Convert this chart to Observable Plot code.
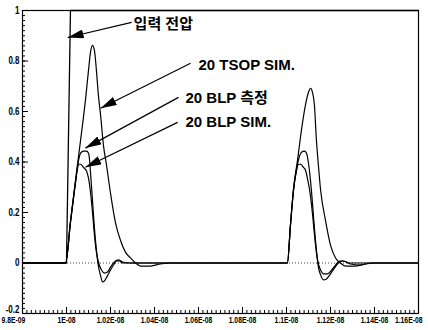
<!DOCTYPE html>
<html><head><meta charset="utf-8">
<script src="https://cdn.jsdelivr.net/npm/d3@7"></script>
<script src="https://cdn.jsdelivr.net/npm/@observablehq/plot@0.6"></script>
<style>body{margin:0;background:#fff}</style>
</head><body><div id="chart"></div>
<script>
// time in ns (axis labelled in seconds), voltage in V
const inputTime  = [9.8, 10.0, 10.018, 11.6];
const inputValue = [0, 0, 1, 1];

const tsopTime  = [9.8, 9.996, 10.018, 10.041, 10.064, 10.086, 10.1, 10.109, 10.118, 10.127, 10.136, 10.145, 10.155, 10.168, 10.182, 10.2, 10.223, 10.245, 10.268, 10.291, 10.314, 10.336, 10.382, 10.427, 10.473,
                   11.004, 11.018, 11.032, 11.05, 11.068, 11.086, 11.1, 11.109, 11.118, 11.127, 11.136, 11.145, 11.155, 11.177, 11.2, 11.223, 11.245, 11.268, 11.314, 11.359, 11.405, 11.6];
const tsopValue = [0, 0, 0.162, 0.328, 0.486, 0.644, 0.763, 0.834, 0.862, 0.842, 0.763, 0.664, 0.585, 0.466, 0.387, 0.277, 0.158, 0.091, 0.043, 0.020, 0, -0.012, -0.012, -0.004, 0,
                   0, 0.150, 0.296, 0.407, 0.526, 0.625, 0.676, 0.692, 0.676, 0.625, 0.486, 0.387, 0.289, 0.170, 0.071, 0.020, 0, -0.012, -0.012, -0.004, 0, 0];

const blpMeasTime  = [9.8, 9.996, 10.018, 10.041, 10.055, 10.064, 10.077, 10.091, 10.1, 10.105, 10.109, 10.118, 10.127, 10.136, 10.145, 10.155, 10.164, 10.173, 10.186, 10.2, 10.214, 10.227, 10.241, 10.255, 10.291,
                      11.004, 11.018, 11.032, 11.045, 11.059, 11.068, 11.082, 11.091, 11.1, 11.109, 11.118, 11.127, 11.136, 11.145, 11.155, 11.168, 11.182, 11.2, 11.218, 11.236, 11.255, 11.273, 11.291, 11.336, 11.382, 11.6];
const blpMeasValue = [0, 0, 0.162, 0.320, 0.407, 0.435, 0.443, 0.443, 0.435, 0.407, 0.360, 0.249, 0.138, 0.051, -0.012, -0.051, -0.075, -0.071, -0.051, -0.028, -0.008, 0.008, 0.008, 0, 0,
                      0, 0.150, 0.289, 0.368, 0.423, 0.439, 0.443, 0.435, 0.395, 0.328, 0.237, 0.138, 0.051, -0.016, -0.047, -0.067, -0.063, -0.043, -0.020, 0, 0.008, 0.004, -0.004, -0.008, 0, 0];

const blpSimTime  = [9.8, 9.996, 10.018, 10.041, 10.05, 10.055, 10.064, 10.077, 10.091, 10.1, 10.109, 10.118, 10.127, 10.136, 10.145, 10.159, 10.173, 10.186, 10.2, 10.218, 10.236, 10.255, 10.291,
                     11.004, 11.018, 11.032, 11.045, 11.055, 11.064, 11.077, 11.086, 11.095, 11.105, 11.114, 11.123, 11.132, 11.141, 11.155, 11.168, 11.186, 11.205, 11.223, 11.241, 11.259, 11.282, 11.6];
const blpSimValue = [0, 0, 0.162, 0.320, 0.375, 0.391, 0.391, 0.379, 0.364, 0.336, 0.281, 0.202, 0.111, 0.043, 0.004, -0.028, -0.040, -0.036, -0.016, 0.004, 0.012, 0.004, 0,
                     0, 0.150, 0.289, 0.364, 0.391, 0.391, 0.379, 0.368, 0.336, 0.289, 0.229, 0.150, 0.071, 0.012, -0.028, -0.043, -0.043, -0.028, -0.008, 0.008, 0.008, 0, 0];

const xTickValues = [9.8, 10.0, 10.2, 10.4, 10.6, 10.8, 11.0, 11.2, 11.4, 11.6];
const xTickLabels = ["9.8E-09", "1E-08", "1.02E-08", "1.04E-08", "1.06E-08", "1.08E-08", "1.1E-08", "1.12E-08", "1.14E-08", "1.16E-08"];
const yTickValues = [1, 0.8, 0.6, 0.4, 0.2, 0, -0.2];
const yTickLabels = ["1", "0.8", "0.6", "0.4", "0.2", "0", "-0.2"];

const annText  = ["입력 전압", "20 TSOP SIM.", "20 BLP 측정", "20 BLP SIM."];
const annTextX = [10.305, 10.6, 10.541, 10.541];
const annTextY = [0.945, 0.783, 0.652, 0.557];
const arrowFromX = [10.296, 10.564, 10.509, 10.505];
const arrowFromY = [0.953, 0.791, 0.656, 0.557];
const arrowToX   = [10.005, 10.155, 10.086, 10.086];
const arrowToY   = [0.893, 0.613, 0.455, 0.379];

function rows(name, t, v) { return t.map((d, i) => ({name, t: d, v: v[i]})); }
const curveRows = [
  ...rows("20 TSOP SIM.", tsopTime, tsopValue),
  ...rows("20 BLP 측정", blpMeasTime, blpMeasValue),
  ...rows("20 BLP SIM.", blpSimTime, blpSimValue)
];
const inputRows = rows("입력 전압", inputTime, inputValue);
const arrows = annText.map((d, i) => ({x1: arrowFromX[i], y1: arrowFromY[i], x2: arrowToX[i], y2: arrowToY[i]}));
const labels = annText.map((d, i) => ({text: d, x: annTextX[i], y: annTextY[i]}));

const xMinor = d3.range(0, 91).map(i => 9.8 + i * 0.02);
const yMinor = d3.range(0, 61).map(i => -0.2 + i * 0.02);
const xFmt = d => xTickLabels[xTickValues.indexOf(d)];
const xLabelOpts = {anchor: "bottom", tickSize: 0, tickPadding: 3, label: null, fontSize: 8.5, fontWeight: "bold", tickFormat: xFmt};
const nX = xTickValues.length;

const chart = Plot.plot({
  width: 428, height: 330,
  marginTop: 10, marginBottom: 17, marginLeft: 22, marginRight: 10,
  style: {background: "white", color: "black", fontFamily: "'Liberation Sans', 'Noto Sans CJK KR', sans-serif"},
  x: {domain: [9.8, 11.6], label: null},
  y: {domain: [-0.2, 1], label: null},
  marks: [
    Plot.ruleY([0], {stroke: "#444", strokeDasharray: "1,2"}),
    Plot.line(inputRows, {x: "t", y: "v", stroke: "black", strokeWidth: 1.3}),
    Plot.line(curveRows, {x: "t", y: "v", z: "name", stroke: "black", strokeWidth: 1.2, curve: "monotone-x"}),
    Plot.frame({stroke: "black", strokeWidth: 1.2}),
    Plot.axisY(yMinor, {anchor: "left", tickSize: -3, tickFormat: () => "", label: null}),
    Plot.axisY(yTickValues, {anchor: "left", tickSize: -6, tickFormat: () => "", label: null}),
    Plot.axisY(yTickValues.slice(0, -1), {anchor: "left", tickSize: 0, tickPadding: 3, label: null, fontSize: 10, fontWeight: "bold",
      tickFormat: d => yTickLabels[yTickValues.indexOf(d)]}),
    Plot.axisY(yTickValues.slice(-1), {anchor: "left", tickSize: 0, tickPadding: 3, label: null, fontSize: 10, fontWeight: "bold", dy: -4,
      tickFormat: d => yTickLabels[yTickValues.indexOf(d)]}),
    Plot.axisX(xMinor, {anchor: "bottom", tickSize: -3, tickFormat: () => "", label: null}),
    Plot.axisX(xTickValues, {anchor: "bottom", tickSize: -6, tickFormat: () => "", label: null}),
    Plot.axisX(xTickValues.slice(0, 1), {...xLabelOpts, textAnchor: "start", dx: -21}),
    Plot.axisX(xTickValues.slice(1, nX - 1), xLabelOpts),
    Plot.axisX(xTickValues.slice(nX - 1), {...xLabelOpts, textAnchor: "end", dx: 4}),
    Plot.link(arrows, {x1: "x1", y1: "y1", x2: "x2", y2: "y2", stroke: "black", strokeWidth: 1.2}),
    Plot.text(labels, {x: "x", y: "y", text: "text", textAnchor: "start", lineAnchor: "middle", fontSize: 15, fontWeight: "bold", fill: "black"})
  ]
});
document.getElementById("chart").append(chart);

// slightly condensed tick labels
chart.querySelectorAll('g[aria-label="x-axis tick label"] text, g[aria-label="y-axis tick label"] text').forEach(t => {
  if (!t.textContent) return;
  const w = t.getComputedTextLength();
  t.setAttribute("textLength", (w * 0.8).toFixed(1));
  t.setAttribute("lengthAdjust", "spacingAndGlyphs");
});
// filled arrowheads
const NS = "http://www.w3.org/2000/svg";
const defs = document.createElementNS(NS, "defs");
defs.innerHTML = '<marker id="ah" viewBox="0 0 16 9" refX="16" refY="4.5" markerWidth="16" markerHeight="9" markerUnits="userSpaceOnUse" orient="auto"><path d="M0,0L16,4.5L0,9Z" fill="black"/></marker>';
chart.prepend(defs);
chart.querySelectorAll('g[aria-label="link"] path').forEach(p => p.setAttribute("marker-end", "url(#ah)"));
</script>
</body></html>
